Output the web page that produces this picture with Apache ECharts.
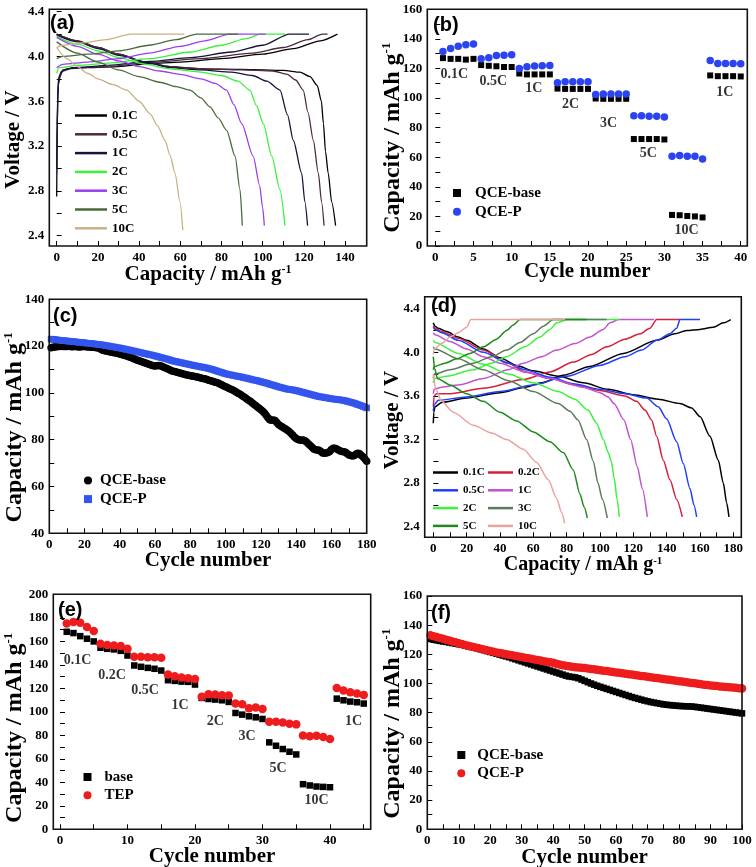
<!DOCTYPE html>
<html><head><meta charset="utf-8">
<script src="https://cdn.jsdelivr.net/npm/echarts@6.0.0/dist/echarts.min.js"></script>
<style>html,body{margin:0;padding:0;background:#fff}#c{width:756px;height:867px}</style>
</head><body><div id="c"></div>
<script>
// ---------- Panel (a): charge/discharge curves [capacity, voltage] ----------
const aRates = ['0.1C','0.5C','1C','2C','3C','5C','10C'];
const a_chg_01 = [[0,2.75],[0.3,3.4],[0.8,3.75],[2,3.86],[5,3.89],[15,3.9],[30,3.91],[45,3.935],[60,3.95],[80,3.98],[100,4.02],[115,4.07],[128,4.14],[136.3,4.2]];
const a_dis_01 = [[0,4.2],[10,4.14],[20,4.08],[30,4.02],[43,3.95],[55,3.91],[70,3.89],[90,3.885],[110,3.875],[118,3.86],[123,3.82],[126.5,3.74],[128.5,3.6],[129.5,3.4],[130.5,3.15],[131.8,2.96],[133.5,2.7],[135.4,2.49]];
const a_chg_05 = [[0,2.95],[0.4,3.6],[1,3.8],[3,3.87],[8,3.9],[25,3.91],[45,3.945],[70,3.98],[95,4.03],[110,4.08],[122,4.15],[129,4.2],[131.5,4.2]];
const a_dis_05 = [[0,4.2],[10,4.14],[20,4.08],[30,4.02],[43,3.95],[55,3.91],[70,3.89],[90,3.88],[105,3.87],[112,3.84],[116,3.79],[119.7,3.7],[122,3.5],[124.6,3.25],[127,2.96],[128.6,2.7],[129.8,2.49]];
const a_chg_1 = [[0,3.0],[0.4,3.65],[1,3.82],[3,3.88],[8,3.9],[25,3.92],[45,3.955],[65,3.99],[85,4.04],[100,4.1],[113,4.2],[122.5,4.2]];
const a_dis_1 = [[0,4.19],[10,4.13],[20,4.07],[30,4.01],[43,3.95],[55,3.9],[70,3.88],[85,3.86],[95,3.83],[102,3.78],[108.4,3.7],[112,3.48],[114.9,3.25],[118.9,2.96],[120.5,2.7],[121.8,2.49]];
const a_chg_2 = [[0,3.85],[1,3.9],[10,3.92],[25,3.94],[45,3.98],[65,4.04],[80,4.1],[92,4.16],[99,4.2],[111,4.2]];
const a_dis_2 = [[0,4.18],[10,4.11],[20,4.05],[30,3.99],[43,3.93],[55,3.89],[70,3.86],[80,3.83],[88,3.78],[93.8,3.7],[97,3.56],[100.3,3.4],[104.4,3.11],[108.4,2.81],[110.8,2.49]];
const a_chg_3 = [[0,3.9],[3,3.93],[15,3.95],[30,3.98],[45,4.03],[60,4.09],[72,4.14],[84,4.2],[101.5,4.2]];
const a_dis_3 = [[0,4.17],[10,4.09],[20,4.02],[30,3.96],[40,3.91],[50,3.87],[60,3.84],[70,3.8],[77,3.76],[82.5,3.7],[86,3.57],[89.8,3.4],[95.4,3.11],[98.5,2.85],[100,2.65],[100.8,2.49]];
const a_chg_5 = [[0,3.98],[3,4.0],[15,4.02],[30,4.05],[45,4.1],[58,4.15],[68,4.2],[88,4.2]];
const a_dis_5 = [[0,4.13],[10,4.03],[20,3.95],[30,3.88],[40,3.82],[50,3.77],[58,3.73],[64.7,3.7],[70,3.63],[74.4,3.55],[78.5,3.45],[82.5,3.34],[86.6,3.11],[89,2.81],[90.1,2.49]];
const a_chg_10 = [[0,4.08],[3,4.1],[12,4.12],[24,4.15],[36,4.2],[62,4.2]];
const a_dis_10 = [[0,4.08],[5,3.98],[10,3.91],[15,3.85],[20,3.8],[27,3.75],[34,3.7],[40,3.6],[45.3,3.49],[49,3.38],[52.6,3.25],[55,3.12],[57.4,2.96],[59.9,2.7],[61.2,2.45]];

// ---------- Panel (b): rate capability ----------
const bBase = [127,126.5,126.5,126,126.5, 122.3,121.8,121.5,121,121, 116.6,116,116,116,116, 106.4,106.2,106.2,106.2,106.2, 99.7,99.5,99.5,99.5,99.5, 72.3,72.3,72.3,72.3,72, 21,20.8,20.3,20,19.3, 115.3,114.8,114.8,114.8,114.6];
const bP = [131.5,133.5,135,136,136.5, 126.6,127.2,128.8,129,129.3, 120,121.1,121.6,121.8,122, 110.3,111,111,111,111, 102.4,102.8,102.8,102.8,102.8, 88.1,88.1,87.7,87.7,87.2, 60.6,61.2,60.6,60.6,58.8, 125.4,123.4,123.4,123.4,123.2];
const bRateText = ['0.1C','0.5C','1C','2C','3C','5C','10C','1C'];
const bRateX = [2.5,7.6,12.9,17.7,22.7,27.9,32.9,37.9];
const bRateY = [115.9,111.4,106.2,95.6,83.2,62.4,10.8,103.5];

// ---------- Panel (c): cycling 180 cycles ----------
const cBase = [119.3,119.5,119.6,119.7,119.8,119.8,119.9,119.8,119.8,119.8,
119.9,119.8,119.7,119.8,119.8,119.7,119.6,119.7,119.8,119.8,
119.7,119.6,119.6,119.5,119.5,119.4,119.3,119.2,118.8,118.3,
118.1,117.9,117.8,117.6,117.5,117.3,117.2,117.0,116.8,116.6,
116.4,116.2,116.0,115.8,115.5,115.2,114.9,114.6,114.3,114.0,
113.7,113.4,113.2,112.9,112.7,112.4,112.1,111.8,111.6,111.5,
111.6,111.7,111.6,111.3,111.0,110.6,110.3,110.0,109.6,109.3,
109.1,108.9,108.7,108.5,108.3,108.1,107.9,107.7,107.5,107.3,
107.2,107.1,106.9,106.8,106.6,106.4,106.2,106.0,105.8,105.5,
105.3,105.1,104.9,104.6,104.4,104.1,103.7,103.4,103.0,102.6,
102.3,101.9,101.6,101.2,100.8,100.4,99.9,99.5,99.0,98.5,
98.0,97.4,96.9,96.4,95.8,95.2,94.6,94.0,93.4,92.8,
92.2,91.4,90.5,89.4,88.5,88.3,88.4,88.2,87.4,86.5,
86.0,85.5,85.0,84.6,84.0,83.5,82.8,82.0,81.2,80.5,
80.1,79.9,79.8,79.9,79.5,78.9,78.2,77.5,76.8,76.0,
75.7,75.6,75.5,75.0,74.3,74.2,74.3,74.5,75.0,75.8,
76.3,76.3,76.0,75.6,75.2,75.0,74.8,74.6,74.0,73.5,
73.2,73.0,73.3,73.9,74.2,74.0,73.3,72.6,71.8,70.8];
const cP = [123.0,122.9,122.8,122.7,122.6,122.5,122.4,122.3,122.3,122.2,
122.1,122.0,121.9,121.9,121.8,121.7,121.6,121.6,121.5,121.4,
121.3,121.2,121.2,121.1,121.0,120.9,120.8,120.7,120.6,120.5,
120.4,120.2,120.1,120.0,119.8,119.7,119.6,119.4,119.3,119.2,
119.0,118.9,118.7,118.5,118.4,118.2,118.0,117.9,117.7,117.5,
117.4,117.2,117.0,116.8,116.7,116.5,116.3,116.2,116.0,115.8,
115.6,115.4,115.2,115.0,114.8,114.6,114.4,114.2,113.9,113.7,
113.5,113.4,113.2,113.0,112.9,112.7,112.5,112.4,112.2,112.0,
111.9,111.7,111.6,111.4,111.3,111.1,111.0,110.8,110.7,110.5,
110.3,110.1,109.9,109.6,109.4,109.1,108.9,108.7,108.4,108.2,
108.0,107.8,107.7,107.5,107.4,107.2,107.1,106.9,106.8,106.6,
106.4,106.3,106.1,105.9,105.7,105.5,105.4,105.2,105.0,104.8,
104.6,104.4,104.2,104.0,103.7,103.5,103.3,103.1,102.8,102.6,
102.4,102.2,102.0,101.8,101.6,101.5,101.4,101.3,101.1,101.0,
100.8,100.6,100.4,100.2,100.0,99.8,99.6,99.4,99.2,99.0,
98.8,98.6,98.4,98.3,98.2,98.0,97.9,97.8,97.6,97.5,
97.4,97.3,97.2,97.1,97.0,96.9,96.8,96.6,96.4,96.2,
96.0,95.8,95.6,95.3,95.0,94.8,94.5,94.2,93.9,93.6];

// ---------- Panel (d): charge/discharge curves ----------
const dRates = ['0.1C','0.2C','0.5C','1C','2C','3C','5C','10C'];
const d_chg_01 = [[0,3.35],[0.3,3.45],[1,3.5],[5,3.54],[20,3.58],[40,3.63],[55,3.68],[65,3.72],[78,3.79],[94,3.87],[114,3.99],[134,4.11],[145,4.17],[152,4.2],[160,4.21],[168,4.23],[174,4.27],[178.5,4.3]];
const d_dis_01 = [[0,4.27],[1,4.24],[3,4.22],[8,4.19],[15,4.14],[20,4.11],[30,4.03],[40,3.95],[50,3.88],[60,3.83],[75,3.78],[90,3.72],[105,3.66],[120,3.61],[135,3.57],[148,3.53],[155,3.49],[160,3.41],[166,3.23],[171,3.01],[174,2.8],[176,2.62],[177.4,2.49]];
const d_chg_02 = [[0,3.5],[0.5,3.6],[2,3.62],[10,3.62],[30,3.67],[54,3.75],[70,3.82],[84,3.91],[95,3.98],[104,4.05],[115,4.12],[124,4.17],[130,4.22],[134,4.3],[148,4.3]];
const d_dis_02 = [[0,4.24],[1,4.22],[5,4.19],[15,4.13],[30,4.02],[45,3.9],[55,3.82],[70,3.76],[85,3.7],[100,3.65],[115,3.6],[122,3.55],[127,3.47],[131,3.38],[134,3.23],[138,3.01],[142,2.83],[146,2.65],[149.4,2.49]];
const d_chg_05 = [[0,3.46],[0.5,3.52],[3,3.56],[20,3.59],[40,3.64],[60,3.7],[80,3.78],[100,3.88],[115,3.96],[125,4.02],[134,4.11],[142,4.17],[146,4.22],[148,4.3],[160,4.3]];
const d_dis_05 = [[0,4.23],[1,4.21],[5,4.18],[15,4.11],[30,4.0],[45,3.9],[55,3.84],[70,3.77],[85,3.71],[100,3.66],[115,3.62],[128,3.58],[135,3.5],[140,3.39],[146,3.18],[150,2.98],[154,2.75],[156.4,2.6],[158,2.49]];
const d_chg_1 = [[0,3.62],[0.5,3.66],[5,3.68],[15,3.7],[30,3.76],[45,3.84],[54,3.9],[65,3.96],[74,4.02],[85,4.08],[94,4.14],[102,4.21],[106,4.27],[111,4.3],[132.5,4.3]];
const d_dis_1 = [[0,4.18],[1,4.16],[10,4.1],[20,4.03],[30,3.96],[40,3.9],[55,3.82],[70,3.76],[90,3.68],[100,3.63],[105,3.59],[108.4,3.53],[114.4,3.38],[118.4,3.2],[122.4,2.95],[125.4,2.75],[128.4,2.49]];
const d_chg_2 = [[0,3.72],[0.5,3.76],[8,3.78],[24,3.84],[35,3.9],[44,3.96],[55,4.05],[64,4.14],[70,4.21],[74,4.27],[80.5,4.3],[112,4.3]];
const d_dis_2 = [[0,4.11],[1,4.09],[15,3.99],[30,3.89],[45,3.8],[60,3.72],[75,3.64],[85,3.57],[92.8,3.47],[98,3.35],[102,3.2],[105,3.08],[106.8,3.0],[108.5,2.85],[110.3,2.65],[111.6,2.49]];
const d_chg_3 = [[0,3.76],[0.5,3.8],[10,3.84],[24,3.9],[35,3.96],[44,4.02],[52,4.09],[60,4.17],[66,4.24],[72,4.3],[104,4.3]];
const d_dis_3 = [[0,4.05],[1,4.03],[15,3.94],[30,3.84],[45,3.74],[60,3.64],[75,3.53],[82,3.46],[86.8,3.38],[92,3.2],[96,3.0],[98.8,2.8],[101.5,2.65],[104.4,2.48]];
const d_chg_5 = [[0,3.84],[0.5,3.87],[7,3.9],[14,3.94],[22,3.99],[30,4.05],[38,4.12],[44,4.2],[48,4.25],[52,4.3],[92,4.3]];
const d_dis_5 = [[0,3.96],[0.8,3.85],[2.5,3.76],[10,3.7],[20,3.62],[30,3.55],[40,3.45],[50,3.37],[60,3.27],[70,3.18],[78,3.08],[84,2.92],[88,2.7],[90.5,2.58],[92.4,2.48]];
const d_chg_10 = [[0,3.98],[0.5,4.03],[5,4.08],[10,4.14],[15,4.18],[20,4.23],[22.5,4.3],[79,4.3]];
const d_dis_10 = [[0,3.8],[1.5,3.66],[5,3.55],[12,3.45],[24,3.33],[35,3.26],[44,3.2],[54,3.11],[62,2.99],[69,2.83],[74,2.66],[77,2.53],[78.8,2.43]];

// ---------- Panel (e): rate capability ----------
const eBase = [168.1,167,164.4,162.2,159.9, 154.5,153.6,153.1,151.9,147.9, 139.4,138.3,137.4,136.6,135.1, 126.9,126.3,125.7,125.5,123.2, 111.8,110.9,110.4,109.8,108.4, 99,97.6,96.2,95.3,93.9, 74,71.1,68.3,66,63.7, 38.4,37.3,36.4,36.1,35.8, 111.2,109.8,108.7,108.1,107];
const eTEP = [175.2,176.4,175.8,172.1,168.7, 157.9,156.8,156.5,155.9,153.6, 146.8,146.8,146.5,146.5,145.9, 131.7,130.3,129.2,128.6,128, 112.9,114.9,114.7,114.1,113.8, 107,106.4,103,103.6,102.4, 91.6,91.6,90.8,89.9,89.3, 79.9,79.1,79.7,78.5,76.8, 120.3,118.1,116.6,115.5,114.4];
const eRateText = ['0.1C','0.2C','0.5C','1C','2C','3C','5C','10C','1C'];
const eRateX = [2.6,7.7,12.6,17.8,23.0,27.7,32.3,38.0,43.5];
const eRateY = [144.1,131.3,118.5,105.8,91.6,78.8,51.9,24.9,91.6];

// ---------- Panel (f): cycling 100 cycles ----------
const fBase = [130.5,130.0,129.6,129.2,128.8,128.5,128.1,127.7,127.3,126.9,
126.5,126.0,125.5,125.0,124.5,124.0,123.4,122.8,122.2,121.6,
121.0,120.4,119.8,119.2,118.6,118.0,117.3,116.6,115.9,115.2,
114.5,113.8,113.1,112.4,111.7,111.0,110.3,109.6,108.9,108.2,
107.5,106.8,106.1,105.4,104.8,104.5,104.2,103.6,102.7,101.8,
100.9,100.0,99.2,98.4,97.7,97.0,96.3,95.6,94.9,94.2,
93.5,92.8,92.1,91.4,90.7,90.1,89.5,88.9,88.3,87.8,
87.3,86.9,86.5,86.1,85.7,85.4,85.2,85.0,84.8,84.6,
84.5,84.4,84.3,84.2,84.0,83.7,83.4,83.1,82.8,82.5,
82.2,81.9,81.6,81.3,81.0,80.7,80.4,80.1,79.8,79.5];
const fP = [133.0,132.4,131.8,131.2,130.6,130.0,129.4,128.8,128.2,127.6,
127.0,126.4,125.8,125.3,124.8,124.3,123.8,123.3,122.8,122.3,
121.8,121.3,120.9,120.5,120.1,119.7,119.3,118.9,118.5,118.1,
117.7,117.3,116.9,116.5,116.1,115.7,115.3,114.9,114.6,114.3,
113.6,113.0,112.5,112.1,111.8,111.5,111.2,111.0,110.8,110.6,
110.3,110.0,109.7,109.4,109.1,108.8,108.5,108.2,107.9,107.6,
107.3,107.0,106.7,106.4,106.1,105.8,105.5,105.2,104.9,104.6,
104.3,104.0,103.7,103.4,103.1,102.8,102.5,102.2,101.9,101.6,
101.3,101.0,100.7,100.4,100.1,99.8,99.5,99.2,98.9,98.6,
98.4,98.2,98.0,97.8,97.6,97.4,97.2,97.0,96.8,96.6];

// ---------- tick values ----------
const aXLabels = [0,20,40,60,80,100,120,140];
const aXTicks = [0,10,20,30,40,50,60,70,80,90,100,110,120,130,140];
const vLabels = [2.4,2.8,3.2,3.6,4.0,4.4];
const vTicks = [2.4,2.6,2.8,3.0,3.2,3.4,3.6,3.8,4.0,4.2,4.4];
const bXLabels = [0,5,10,15,20,25,30,35,40];
const bXTicks = [0,2.5,5,7.5,10,12.5,15,17.5,20,22.5,25,27.5,30,32.5,35,37.5,40];
const cap160Labels = [0,20,40,60,80,100,120,140,160];
const cap160Ticks = [0,10,20,30,40,50,60,70,80,90,100,110,120,130,140,150,160];
const cXLabels = [0,20,40,60,80,100,120,140,160,180];
const cXTicks = [0,10,20,30,40,50,60,70,80,90,100,110,120,130,140,150,160,170,180];
const cYLabels = [40,60,80,100,120,140];
const cYTicks = [40,50,60,70,80,90,100,110,120,130,140];
const dXLabels = [0,20,40,60,80,100,120,140,160,180];
const dXTicks = [0,10,20,30,40,50,60,70,80,90,100,110,120,130,140,150,160,170,180];
const eXLabels = [0,10,20,30,40];
const eXTicks = [0,5,10,15,20,25,30,35,40,45];
const eYLabels = [0,20,40,60,80,100,120,140,160,180,200];
const eYTicks = [0,10,20,30,40,50,60,70,80,90,100,110,120,130,140,150,160,170,180,190,200];
const fXLabels = [0,10,20,30,40,50,60,70,80,90,100];
const fXTicks = [0,5,10,15,20,25,30,35,40,45,50,55,60,65,70,75,80,85,90,95,100];

// ---------- styling / layout ----------
const SERIF = '"Liberation Serif","Times New Roman",serif';
const SANS = '"Liberation Sans",Arial,sans-serif';
const aColors = ['#000000','#4d2a3c','#14143c','#3cf03c','#9a3ef0','#4b6a3b','#c8b184'];
const dColors = ['#000000','#d4203c','#1f3fff','#c452d0','#3df23d','#5c7a5c','#1d8a1d','#eba3a0'];
const CAPNAME = '{m|Capacity / mAh g}{s|-1}';
const GRIDS = [
  [49.3, 9.3, 317.4, 236.7],
  [427.3, 9.3, 320, 236.7],
  [49.3, 299.3, 317.4, 234],
  [424.7, 296.7, 316.6, 240.6],
  [53.3, 594.3, 317.4, 235],
  [427.3, 596, 314.7, 233.3]
];

function axisCfg(gi, min, max, labels, ticks, name, nameSize, nameGap, pad, fmt) {
  return {
    type: 'value', gridIndex: gi, min: min, max: max,
    name: name, nameLocation: 'middle', nameGap: nameGap, nameMoveOverlap: false,
    nameTextStyle: {
      fontFamily: SERIF, fontWeight: 'bold', fontSize: nameSize, color: '#000', padding: pad,
      rich: {
        m: { fontFamily: SERIF, fontWeight: 'bold', fontSize: nameSize, color: '#000' },
        s: { fontFamily: SERIF, fontWeight: 'bold', fontSize: Math.round(nameSize * 0.55), color: '#000', verticalAlign: 'top' }
      }
    },
    axisLine: { show: false },
    axisTick: { show: true, inside: true, length: 5, customValues: ticks, lineStyle: { color: '#000', width: 1 } },
    axisLabel: { show: true, customValues: labels, fontFamily: SERIF, fontWeight: 'bold', fontSize: 13, color: '#000', margin: 5, formatter: fmt, hideOverlap: false },
    splitLine: { show: false }
  };
}
const v1 = v => Number(v).toFixed(1);
const v0 = v => String(Math.round(v));

function lineS(name, data, color, ai, w) {
  return { type: 'line', name: name, data: data, xAxisIndex: ai, yAxisIndex: ai, symbol: 'none', showSymbol: false,
    smooth: 0.25, smoothMonotone: 'x', lineStyle: { color: color, width: w }, itemStyle: { color: color }, silent: true, z: 3 };
}
function scatS(name, vals, ai, symbol, size, color) {
  return { type: 'scatter', name: name, xAxisIndex: ai, yAxisIndex: ai, symbol: symbol, symbolSize: size,
    data: vals.map((v, i) => [i + 1, v]), itemStyle: { color: color, opacity: 1 }, silent: true, z: 3 };
}
function labelS(ai, texts, xs, ys) {
  return { type: 'scatter', xAxisIndex: ai, yAxisIndex: ai, symbolSize: 1, itemStyle: { color: 'rgba(0,0,0,0)' }, silent: true, z: 5,
    data: texts.map((t, i) => ({ value: [xs[i], ys[i]], label: { formatter: t } })),
    label: { show: true, position: 'inside', fontFamily: SERIF, fontWeight: 'bold', fontSize: 14, color: '#000' } };
}
function legendCfg(prefix, names, left, top, iw, ih, gap, fs, extra, textPad) {
  return Object.assign({
    show: true, orient: 'vertical', left: left, top: top, itemWidth: iw, itemHeight: ih, itemGap: gap,
    selectedMode: false, padding: 0,
    data: names.map(n => prefix + '|' + n),
    formatter: n => n.split('|')[1],
    textStyle: { fontFamily: SERIF, fontWeight: 'bold', fontSize: fs, color: '#000', padding: textPad || 0 }
  }, extra || {});
}

const aChg = [a_chg_01, a_chg_05, a_chg_1, a_chg_2, a_chg_3, a_chg_5, a_chg_10];
const aDis = [a_dis_01, a_dis_05, a_dis_1, a_dis_2, a_dis_3, a_dis_5, a_dis_10];
const dChg = [d_chg_01, d_chg_02, d_chg_05, d_chg_1, d_chg_2, d_chg_3, d_chg_5, d_chg_10];
const dDis = [d_dis_01, d_dis_02, d_dis_05, d_dis_1, d_dis_2, d_dis_3, d_dis_5, d_dis_10];

const series = [];
aRates.forEach((r, i) => {
  series.push(lineS('a|' + r, aChg[i], aColors[i], 0, 1.3));
  series.push(lineS('a|' + r, aDis[i], aColors[i], 0, 1.3));
});
series.push(scatS('b|QCE-base', bBase, 1, 'rect', 6, '#000'));
series.push(scatS('b|QCE-P', bP, 1, 'circle', 7.5, '#2b43f0'));
series.push(labelS(1, bRateText, bRateX, bRateY));
series.push(scatS('c|QCE-base', cBase, 2, 'circle', 7.5, '#000'));
series.push(scatS('c|QCE-P', cP, 2, 'rect', 6.5, '#3355ee'));
dRates.forEach((r, i) => {
  series.push(lineS('d|' + r, dChg[i], dColors[i], 3, 1.5));
  series.push(lineS('d|' + r, dDis[i], dColors[i], 3, 1.5));
});
series.push(scatS('e|base', eBase, 4, 'rect', 6.5, '#000'));
series.push(scatS('e|TEP', eTEP, 4, 'circle', 8.5, '#ee1c1c'));
series.push(labelS(4, eRateText, eRateX, eRateY));
series.push(scatS('f|QCE-base', fBase, 5, 'rect', 6.5, '#000'));
series.push(scatS('f|QCE-P', fP, 5, 'circle', 8.5, '#ee1c1c'));

const panelTags = ['(a)','(b)','(c)','(d)','(e)','(f)'];
const tagPos = [[50,13],[433,15],[53,306],[431,296],[58,600],[431,603]];
const graphics = [];
GRIDS.forEach(g => graphics.push({ type: 'rect', silent: true, z: 100,
  shape: { x: g[0], y: g[1], width: g[2], height: g[3] }, style: { fill: null, stroke: '#111', lineWidth: 1.6 } }));
panelTags.forEach((t, i) => graphics.push({ type: 'text', left: tagPos[i][0], top: tagPos[i][1], z: 101,
  style: { text: t, fontSize: 20, fontWeight: 'bold', fontFamily: SANS, fill: '#000' } }));

const lineLegend = { icon: 'rect' };
const option = {
  animation: false,
  backgroundColor: '#fff',
  grid: GRIDS.map(g => ({ left: g[0], top: g[1], width: g[2], height: g[3], show: false, containLabel: false, outerBoundsMode: 'none' })),
  xAxis: [
    axisCfg(0, -3.59, 150.5, aXLabels, aXTicks, CAPNAME, 21, 18, 0, v0),
    axisCfg(1, -1.05, 40.86, bXLabels, bXTicks, 'Cycle number', 21, 15, 0, v0),
    axisCfg(2, 0, 180, cXLabels, cXTicks, 'Cycle number', 21, 17, 0, v0),
    axisCfg(3, -5.16, 184.8, dXLabels, dXTicks, CAPNAME, 20, 18, 0, v0),
    axisCfg(4, -0.99, 46.03, eXLabels, eXTicks, 'Cycle number', 21, 17, 0, v0),
    axisCfg(5, 0, 100, fXLabels, fXTicks, 'Cycle number', 21, 18, 0, v0)
  ],
  yAxis: [
    axisCfg(0, 2.308, 4.421, vLabels, vTicks, 'Voltage / V', 21, 25, [0, 24, 0, 0], v1),
    axisCfg(1, 0, 160, cap160Labels, cap160Ticks, CAPNAME, 24, 23, [0, 20, 0, 0], v0),
    axisCfg(2, 40, 140, cYLabels, cYTicks, CAPNAME, 24, 23, [0, 22, 0, 0], v0),
    axisCfg(3, 2.303, 4.51, vLabels, vTicks, 'Voltage / V', 21, 22, [0, 6, 0, 0], v1),
    axisCfg(4, 0, 200, eYLabels, eYTicks, CAPNAME, 24, 27, [0, 32, 0, 0], v0),
    axisCfg(5, 0, 160, cap160Labels, cap160Ticks, CAPNAME, 24, 23, [0, 22, 0, 0], v0)
  ],
  legend: [
    legendCfg('a', aRates, 75, 109, 32, 2.5, 5.8, 13, lineLegend),
    legendCfg('b', ['QCE-base', 'QCE-P'], 453, 185.5, 8, 8, 3.7, 15, null, [0, 0, 0, 9]),
    legendCfg('c', ['QCE-base', 'QCE-P'], 84, 473, 8, 8, 3.6, 15, null, [0, 0, 0, 3]),
    legendCfg('d', ['0.1C', '0.5C', '2C', '5C'], 433, 467, 25, 2.5, 6.8, 11, lineLegend),
    legendCfg('d', ['0.2C', '1C', '3C', '10C'], 488, 467, 25, 2.5, 6.8, 11, lineLegend),
    legendCfg('e', ['base', 'TEP'], 83.5, 769.5, 8, 8, 3.3, 15, null, [0, 0, 0, 8]),
    legendCfg('f', ['QCE-base', 'QCE-P'], 457.3, 747.5, 8, 8, 3.3, 15, null, [0, 0, 0, 7])
  ],
  graphic: graphics,
  series: series
};

const chart = echarts.init(document.getElementById('c'), null, { renderer: 'canvas', width: 756, height: 867 });
chart.setOption(option);
</script></body></html>
